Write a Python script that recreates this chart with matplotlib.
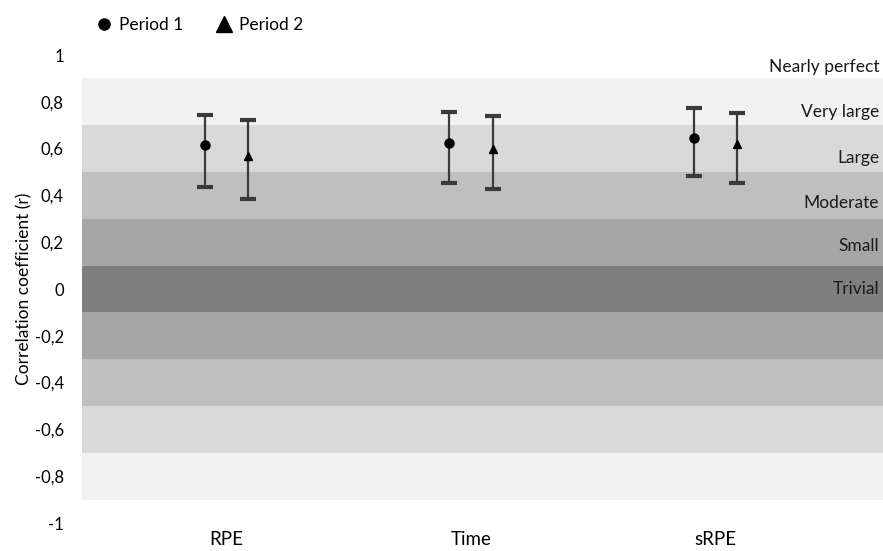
import matplotlib.pyplot as plt
from matplotlib.lines import Line2D

# data
categories = ["RPE", "Time", "sRPE"]
p1_r = [0.617, 0.626, 0.647]
p1_lo = [0.434, 0.451, 0.481]
p1_hi = [0.745, 0.757, 0.774]
p2_r = [0.570, 0.600, 0.621]
p2_lo = [0.383, 0.426, 0.451]
p2_hi = [0.723, 0.740, 0.753]

# magnitude bands (lower, upper)
band_edges = [-0.9, -0.7, -0.5, -0.3, -0.1, 0.1, 0.3, 0.5, 0.7, 0.9]
band_colors = ["#f2f2f2", "#d9d9d9", "#bfbfbf", "#a6a6a6", "#7f7f7f",
               "#a6a6a6", "#bfbfbf", "#d9d9d9", "#f2f2f2"]
band_names = ["Nearly perfect", "Very large", "Large", "Moderate", "Small", "Trivial"]
band_label_y = [0.95, 0.755, 0.56, 0.367, 0.184, 0.0]

plt.rcParams['font.family'] = ['Lato', 'DejaVu Sans']

fig = plt.figure(figsize=(8.83, 5.51), dpi=100)
ax = fig.add_axes([82/883, 28/551, 801/883, 468/551])

for i in range(len(band_colors)):
    ax.axhspan(band_edges[i], band_edges[i+1], color=band_colors[i], lw=0, zorder=0)

for name, yy in zip(band_names, band_label_y):
    ax.text(3.67, yy, name, ha='right', va='center', fontsize=12.5, color='#1a1a1a')

x = [1, 2, 3]
off = 0.088
x1 = [v - off for v in x]
x2 = [v + off for v in x]
err1 = [[r - lo for r, lo in zip(p1_r, p1_lo)], [hi - r for r, hi in zip(p1_r, p1_hi)]]
err2 = [[r - lo for r, lo in zip(p2_r, p2_lo)], [hi - r for r, hi in zip(p2_r, p2_hi)]]

ax.errorbar(x1, p1_r, yerr=err1, fmt='o', color='black', ms=6.5, ecolor='#3a3a3a',
            elinewidth=1.6, capsize=6, capthick=3, zorder=3)
ax.errorbar(x2, p2_r, yerr=err2, fmt='^', color='black', ms=6, ecolor='#3a3a3a',
            elinewidth=1.6, capsize=6, capthick=3, zorder=3)

ax.set_xlim(0.409, 3.685)
ax.set_ylim(-1, 1)
ax.set_xticks(x)
ax.set_xticklabels(categories, fontsize=13.5)
ax.set_yticks([-1, -0.8, -0.6, -0.4, -0.2, 0, 0.2, 0.4, 0.6, 0.8, 1])
ax.set_yticklabels(["-1", "-0,8", "-0,6", "-0,4", "-0,2", "0", "0,2", "0,4", "0,6", "0,8", "1"],
                   fontsize=12)
ax.tick_params(axis='both', length=0)
ax.tick_params(axis='x', pad=6)
ax.tick_params(axis='y', pad=13)
for s in ax.spines.values():
    s.set_visible(False)
ax.set_ylabel("Correlation coefficient (r)", fontsize=12.5, labelpad=2)

handles = [Line2D([], [], marker='o', color='black', ls='none', ms=8),
           Line2D([], [], marker='^', color='black', ls='none', ms=12)]
fig.legend(handles, ["Period 1", "Period 2"], loc='center left', bbox_to_anchor=(0.09, 0.955),
           ncol=2, frameon=False, fontsize=12.5, handletextpad=0.4, columnspacing=1.8,
           handlelength=1.0)

fig.savefig("out.png", dpi=100)
